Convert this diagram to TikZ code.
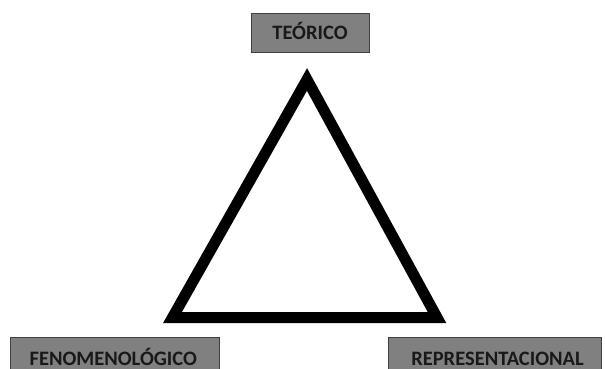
\documentclass[tikz,border=0pt]{standalone}
\usepackage{fontspec}
\setmainfont{Carlito}[BoldFont={Carlito Bold}]
\begin{document}
\begin{tikzpicture}[x=1pt,y=-1pt,
  box/.style={draw=black!75,line width=1pt,fill=black!50},
  txt/.style={text=black!90,font=\bfseries\fontsize{20.5}{22}\selectfont,inner sep=0pt,anchor=base,text depth=0pt},
  tri/.style={line width=11pt,line join=miter,miter limit=10}]
\useasboundingbox (0,0) rectangle (605,369);
\coordinate (A) at (307,79.5);
\coordinate (B) at (172.5,317.5);
\coordinate (C) at (437,317.5);
\draw[tri] (A) -- (B) -- (C) -- cycle;
\draw[box] (251,13.5) rectangle (369,52.5);
\draw[box] (10,337.5) rectangle (219,380);
\draw[box] (388.5,337.5) rectangle (601.5,380);
\node[txt] (teo) at (310,39.5) {TEÓRICO};
\node[txt] (fen) at (113.3,365) {FENOMENOLÓGICO};
\node[txt] (rep) at (497.5,365) {REPRESENTACIONAL};
\end{tikzpicture}
\end{document}
